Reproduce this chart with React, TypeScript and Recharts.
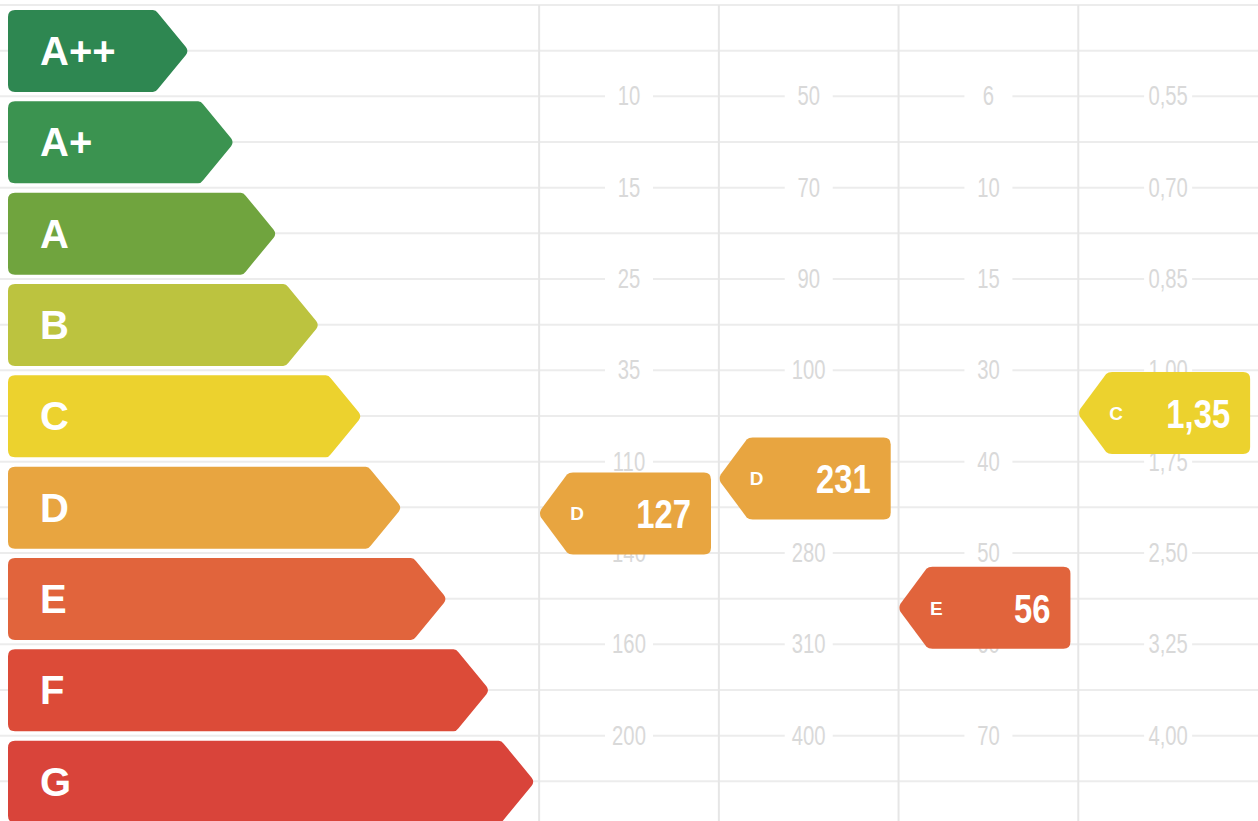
import React from "react";
import { BarChart, Bar, XAxis, YAxis, ScatterChart, Scatter, ReferenceLine } from "recharts";

// energy classes, top to bottom
const classes = ["A++", "A+", "A", "B", "C", "D", "E", "F", "G"];
const classColors = ["#2e8751", "#3b9350", "#70a43e", "#bcc33f", "#ecd22e", "#e8a540", "#e1643c", "#dc4b38", "#d9443a"];
// arrow length, % of the left panel
const barLengths = [34, 42.5, 50.5, 58.5, 66.5, 74, 82.5, 90.5, 99];

// class limits for each of the four columns (between two rows)
const limits1 = [10, 15, 25, 35, 110, 140, 160, 200];
const limits2 = [50, 70, 90, 100, 220, 280, 310, 400];
const limits3 = [6, 10, 15, 30, 40, 50, 60, 70];
const limits4 = [0.55, 0.7, 0.85, 1.0, 1.75, 2.5, 3.25, 4.0];
const limitDecimals = [0, 0, 0, 2];

// measured values and their class
const measured = [127, 231, 56, 1.35];
const measuredClass = ["D", "D", "E", "C"];
const measuredDecimals = [0, 0, 0, 2];

const allLimits = [limits1, limits2, limits3, limits4];

const fmt = (v: number, d: number) => v.toFixed(d).replace(".", ",");

// row position of a value on the class scale
function rowPos(v: number, lim: number[]) {
  for (let k = 0; k < lim.length - 1; k++) {
    if (v >= lim[k] && v < lim[k + 1]) return k + 0.5 + (v - lim[k]) / (lim[k + 1] - lim[k]);
  }
  if (v < lim[0]) return 0.5 - (lim[0] - v) / (lim[1] - lim[0]);
  return lim.length - 0.5;
}

const barData = classes.map((name, i) => ({ name, len: barLengths[i] }));

const labelData = allLimits.flatMap((lim, c) =>
  lim.map((v, k) => ({ x: c + 0.5, y: k + 0.5, text: fmt(v, limitDecimals[c]) }))
);

const tagData = measured.map((v, c) => ({
  x: c + 0.5,
  y: rowPos(v, allLimits[c]),
  text: fmt(v, measuredDecimals[c]),
  cls: measuredClass[c],
}));

const gridRows = Array.from({ length: classes.length * 2 }, (_, i) => i / 2 - 0.5);
const gridCols = [0, 1, 2, 3];

const SANS = "'Liberation Sans', Arial, sans-serif";

function Arrow(props: any) {
  const { x, y, width, height, index } = props;
  const d = 33;
  const r = 7;
  const tip = x + width;
  const cy = y + height / 2;
  const path =
    `M ${x + r} ${y} L ${tip - d - 3} ${y} Q ${tip - d} ${y} ${tip - d + 2} ${y + 3}` +
    ` L ${tip - 3} ${cy - 4} Q ${tip} ${cy} ${tip - 3} ${cy + 4}` +
    ` L ${tip - d + 2} ${y + height - 3} Q ${tip - d} ${y + height} ${tip - d - 3} ${y + height}` +
    ` L ${x + r} ${y + height} Q ${x} ${y + height} ${x} ${y + height - r} L ${x} ${y + r} Q ${x} ${y} ${x + r} ${y} Z`;
  const color = classColors[index];
  return (
    <g>
      <path d={path} fill={color} />
      <text x={x + 32} y={cy + 14} fill="#fff" fontSize={40} fontWeight="bold" fontFamily={SANS}>
        {classes[index]}
      </text>
    </g>
  );
}

function LimitLabel(props: any) {
  const { cx, cy, payload } = props;
  return (
    <g>
      <rect x={cx - 24} y={cy - 14} width={48} height={28} fill="#fff" />
      <text
        transform={`translate(${cx},${cy + 9}) scale(0.75,1)`}
        textAnchor="middle"
        fill="#d9d9d9"
        fontSize={27}
        fontFamily={SANS}
      >
        {payload.text}
      </text>
    </g>
  );
}

function Tag(props: any) {
  const { cx, cy, payload } = props;
  const w = 172;
  const h = 82;
  const d = 30;
  const r = 7;
  const left = cx - 90;
  const right = left + w;
  const top = cy - h / 2;
  const bottom = cy + h / 2;
  const color = classColors[classes.indexOf(payload.cls)];
  const path =
    `M ${left + 2} ${cy - 4} Q ${left} ${cy} ${left + 2} ${cy + 4} L ${left + d - 2} ${bottom - 2} Q ${left + d} ${bottom} ${left + d + 4} ${bottom}` +
    ` L ${right - r} ${bottom} Q ${right} ${bottom} ${right} ${bottom - r} L ${right} ${top + r} Q ${right} ${top} ${right - r} ${top}` +
    ` L ${left + d + 4} ${top} Q ${left + d} ${top} ${left + d - 2} ${top + 2} Z`;
  return (
    <g>
      <path d={path} fill={color} />
      <text x={left + 38} y={cy + 7} textAnchor="middle" fill="#fff" fontSize={19} fontWeight="bold" fontFamily={SANS}>
        {payload.cls}
      </text>
      <text
        transform={`translate(${right - 20},${cy + 15}) scale(0.8,1)`}
        textAnchor="end"
        fill="#fff"
        fontSize={41}
        fontWeight="bold"
        fontFamily={SANS}
      >
        {payload.text}
      </text>
    </g>
  );
}

export default function App() {
  return (
    <div style={{ position: "fixed", left: 0, top: 0, width: 1258, height: 821, overflow: "hidden", background: "#fff" }}>
      <div style={{ position: "absolute", left: 0, top: 0 }}>
        <ScatterChart width={1258} height={827} margin={{ top: 5, right: 0, bottom: 0, left: 0 }}>
          <XAxis type="number" dataKey="x" domain={[-3, 4]} hide />
          <YAxis type="number" dataKey="y" domain={[-0.5, 8.5]} reversed hide />
          {gridRows.map((v) => (
            <ReferenceLine key={"h" + v} y={v} stroke="#ececec" strokeWidth={2} />
          ))}
          {gridCols.map((v) => (
            <ReferenceLine key={"v" + v} x={v} stroke="#e6e6e6" strokeWidth={2} />
          ))}
          <Scatter data={labelData} shape={<LimitLabel />} isAnimationActive={false} />
          <Scatter data={tagData} shape={<Tag />} isAnimationActive={false} />
        </ScatterChart>
      </div>
      <div style={{ position: "absolute", left: 0, top: 0 }}>
        <BarChart
          width={540}
          height={827}
          layout="vertical"
          data={barData}
          margin={{ top: 5, right: 0, bottom: 0, left: 8 }}
          barSize={82}
        >
          <XAxis type="number" domain={[0, 100]} hide />
          <YAxis type="category" dataKey="name" hide />
          <Bar dataKey="len" shape={<Arrow />} isAnimationActive={false} />
        </BarChart>
      </div>
    </div>
  );
}
